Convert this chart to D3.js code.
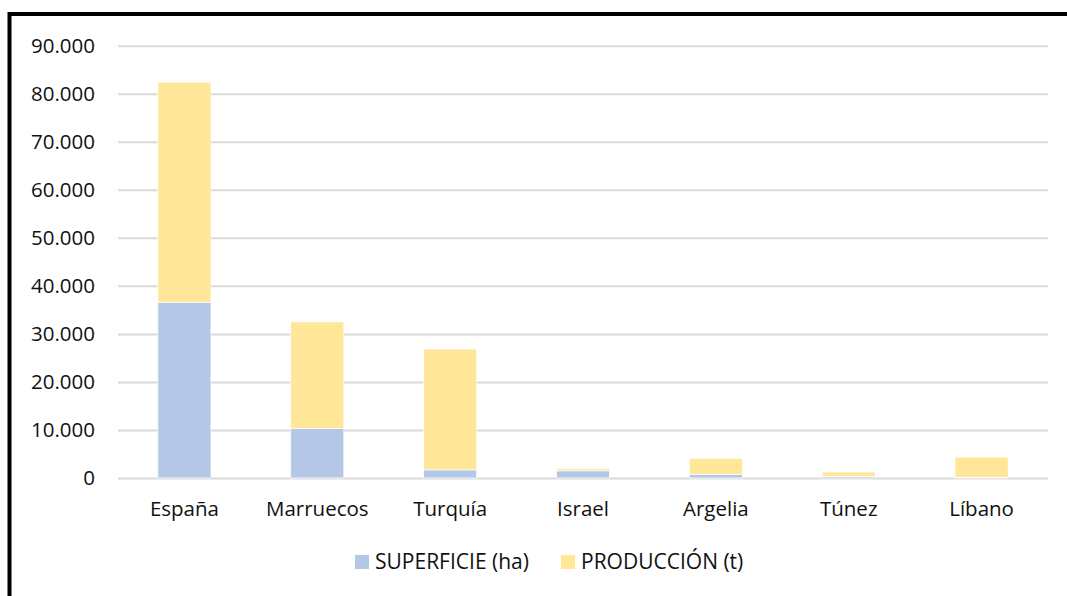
<!DOCTYPE html>
<html>
<head>
<meta charset="utf-8">
<script src="https://cdn.jsdelivr.net/npm/d3@7"></script>
<style>
  html, body { margin: 0; padding: 0; background: #fff; }
  svg { display: block; }
  text { font-family: "Open Sans", Lato, sans-serif; fill: #111; }
</style>
</head>
<body>
<svg id="chart" width="1067" height="596"></svg>
<script>
// Countries and stacked series
const categories = ["España", "Marruecos", "Turquía", "Israel", "Argelia", "Túnez", "Líbano"];
const superficie = [36600, 10300, 1700, 1500, 700, 300, 150];
const produccion = [45800, 22200, 25150, 500, 3400, 950, 4200];
const seriesNames = ["SUPERFICIE (ha)", "PRODUCCIÓN (t)"];
const seriesColors = ["#B4C7E7", "#FFE699"];
const yTicks = [0, 10000, 20000, 30000, 40000, 50000, 60000, 70000, 80000, 90000];

const svg = d3.select("#chart");
const plot = { left: 118, right: 1048, top: 45.7, bottom: 478 };

// Outer frame
svg.append("rect")
  .attr("x", 9.5).attr("y", 14)
  .attr("width", 1200).attr("height", 800)
  .attr("fill", "none").attr("stroke", "#000").attr("stroke-width", 4);

const x = d3.scaleBand()
  .domain(categories)
  .range([plot.left, plot.right])
  .paddingInner(0.6)
  .paddingOuter(0.3);

const y = d3.scaleLinear()
  .domain([0, 90000])
  .range([plot.bottom, plot.top]);

const fmt = v => d3.format(",")(v).replace(/,/g, ".");

// Horizontal gridlines with value labels
const yAxis = d3.axisLeft(y)
  .tickValues(yTicks)
  .tickSize(-(plot.right - plot.left))
  .tickPadding(23)
  .tickFormat(fmt);

const gy = svg.append("g")
  .attr("transform", `translate(${plot.left},0)`)
  .call(yAxis);
gy.select(".domain").remove();
gy.selectAll(".tick line").attr("stroke", "#D9D9D9").attr("stroke-width", 2);
gy.selectAll(".tick text")
  .attr("font-size", 20.5)
  .attr("fill", "#111")
  .style("font-family", "'Open Sans', Lato, sans-serif");

// Stacked bars
const rows = categories.map((c, i) => ({ cat: c, s0: superficie[i], s1: produccion[i] }));
const stack = d3.stack().keys(["s0", "s1"]);
const layers = stack(rows);

svg.append("g").selectAll("g")
  .data(layers)
  .join("g")
  .attr("fill", (d, i) => seriesColors[i])
  .selectAll("rect")
  .data(d => d)
  .join("rect")
  .attr("x", d => x(d.data.cat))
  .attr("width", x.bandwidth())
  .attr("y", d => y(d[1]))
  .attr("height", d => y(d[0]) - y(d[1]))
  .attr("stroke", "#fff")
  .attr("stroke-width", 0.75);

// Category labels
const xAxis = d3.axisBottom(x).tickSize(0).tickPadding(0);
const gx = svg.append("g")
  .attr("transform", `translate(0,${plot.bottom})`)
  .call(xAxis);
gx.select(".domain").remove();
gx.selectAll(".tick text")
  .attr("y", 38)
  .attr("dy", 0)
  .attr("font-size", 20.5)
  .attr("fill", "#111")
  .style("font-family", "'Open Sans', Lato, sans-serif");

// Legend
const legendItems = [
  { name: seriesNames[0], color: seriesColors[0], x: 355 },
  { name: seriesNames[1], color: seriesColors[1], x: 561 }
];
const lg = svg.append("g");
legendItems.forEach(item => {
  lg.append("rect")
    .attr("x", item.x).attr("y", 555)
    .attr("width", 14).attr("height", 14)
    .attr("fill", item.color);
  lg.append("text")
    .attr("x", item.x + 20).attr("y", 569)
    .attr("font-size", 21)
    .text(item.name);
});
</script>
</body>
</html>
